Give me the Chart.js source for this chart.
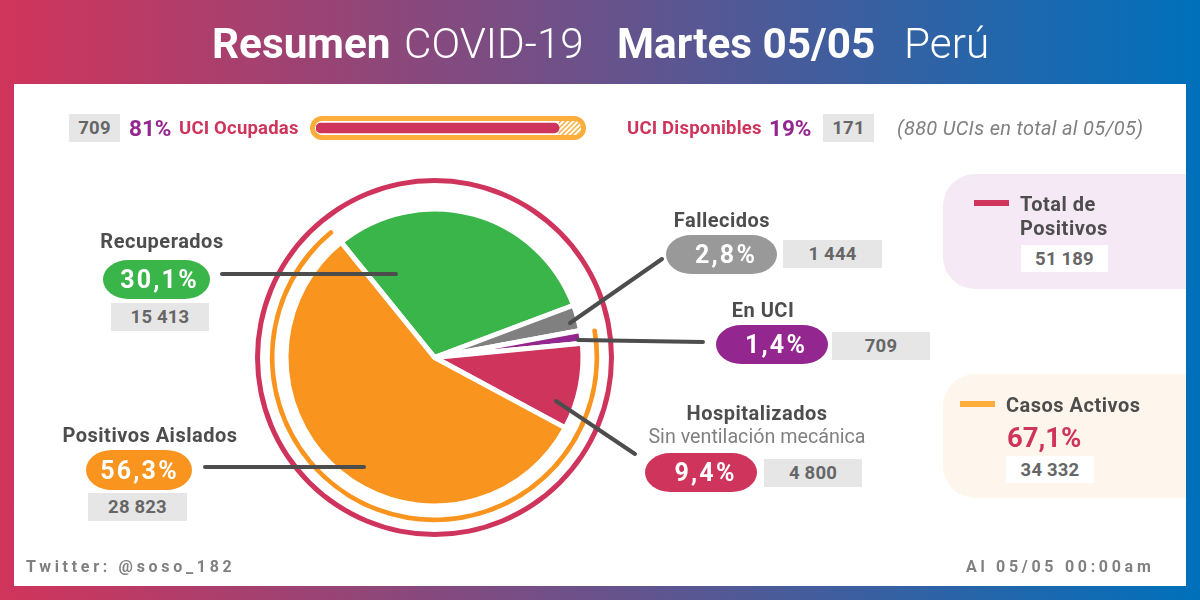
<!DOCTYPE html>
<html lang="es">
<head>
<meta charset="utf-8">
<title>Resumen COVID-19</title>
<script src="https://cdn.jsdelivr.net/npm/chart.js@4"></script>
<style>
  html, body { margin: 0; padding: 0; }
  body { width: 1200px; height: 600px; overflow: hidden; position: relative; font-family: Roboto, sans-serif;
         background: linear-gradient(90deg, #d1345b 0%, #0070bb 100%); }
  #panel { position: absolute; left: 14px; top: 84px; width: 1172px; height: 502px; background: #fff; }
  .t { position: absolute; white-space: nowrap; transform: translateY(-50%); line-height: 1; }
  .c { transform: translate(-50%, -50%); }
  .box { position: absolute; background: #e6e6e6; color: #666; font-weight: 700; font-size: 18.5px; display: flex;
         align-items: center; justify-content: center; letter-spacing: .2px; }
  .pill { position: absolute; color: #fff; font-weight: 700; font-size: 25px; letter-spacing: 2.2px; display: flex;
          align-items: center; justify-content: center; border-radius: 26px / 20px; box-sizing: border-box; }
  .card { position: absolute; left: 943px; width: 243px; border-radius: 32px 0 0 32px; }
  canvas { position: absolute; }
  svg { position: absolute; left: 0; top: 0; }
</style>
</head>
<body>
<div id="panel"></div>
<div class="card" style="top:174px;height:115px;background:#f4e9f4"></div>
<div class="card" style="top:374px;height:124px;background:#fef6ec"></div>
<div id="capsula" style="position:absolute;left:310px;top:116px;width:266px;height:14px;border:5px solid #fbae3c;border-radius:12px"></div>
<canvas id="barra-uci" width="265" height="14" style="left:316px;top:121px;border-radius:0 7px 7px 0"></canvas>
<canvas id="pie-casos" width="361" height="361" style="left:254px;top:177px"></canvas>
<svg width="1200" height="600" id="guias"></svg>
<div id="textos"></div>

<script>
'use strict';

// Datos del resumen, 05/05
const categorias = ['Recuperados', 'Fallecidos', 'En UCI', 'Hospitalizados', 'Positivos Aislados'];
const casos = [15413, 1444, 709, 4800, 28823];
const porcentajes = ['30,1%', '2,8%', '1,4%', '9,4%', '56,3%'];
const colores = ['#3ab54a', '#808080', '#93278f', '#cf355c', '#f9941e'];
const colorPill = ['#3ab54a', '#999999', '#93278f', '#cf355c', '#f9941e'];

const totalPositivos = [51189];
const casosActivos = [34332, 16857]; // activos, resto
const uciOcupadas = [709];
const uciDisponibles = [171];

const fmt = n => String(n).replace(/\B(?=(\d{3})+$)/g, ' ');

/* ---------- textos ---------- */
const textos = document.getElementById('textos');
function texto(str, x, y, estilo, centrado) {
    const d = document.createElement('div');
    d.className = 't' + (centrado ? ' c' : '');
    d.textContent = str;
    d.style.cssText = `left:${x}px;top:${y}px;${estilo}`;
    textos.appendChild(d);
}
function caja(str, x, y, w, h, fondo) {
    const d = document.createElement('div');
    d.className = 'box';
    d.textContent = str;
    d.style.cssText = `left:${x}px;top:${y}px;width:${w}px;height:${h}px;` + (fondo ? `background:${fondo};` : '');
    textos.appendChild(d);
}
function pill(str, x, y, w, h, color, corrimiento) {
    const d = document.createElement('div');
    d.className = 'pill';
    d.textContent = str;
    d.style.cssText = `left:${x}px;top:${y}px;width:${w}px;height:${h}px;background:${color};padding-left:${corrimiento}px`;
    textos.appendChild(d);
}

// Titulo
const blanco = 'color:#fff;font-size:42.3px;';
texto('Resumen', 212, 44, blanco + 'font-weight:700');
texto('COVID-19', 404, 44, blanco + 'font-weight:300');
texto('Martes 05/05', 617, 44, blanco + 'font-weight:700');
texto('Perú', 904, 44, blanco + 'font-weight:300');

// Fila UCI
const rojoUci = 'color:#cf355c;font-weight:700;font-size:18.5px;letter-spacing:.2px';
const moradoUci = 'color:#93278f;font-weight:700;font-size:22.5px';
caja(fmt(uciOcupadas[0]), 69, 114, 51, 28);
texto('81%', 129, 128, moradoUci);
texto('UCI Ocupadas', 179, 128, rojoUci);
texto('UCI Disponibles', 627, 128, rojoUci);
texto('19%', 769, 128, moradoUci);
caja(fmt(uciDisponibles[0]), 823, 114, 51, 28);
texto('(880 UCIs en total al 05/05)', 897, 128, 'color:#808080;font-style:italic;font-size:20px;letter-spacing:.3px');

// Etiquetas de la torta
const tituloEstilo = 'color:#4d4d4d;font-weight:700;font-size:20px;letter-spacing:.5px';
texto(categorias[0], 162, 241, tituloEstilo, true);
pill(porcentajes[0], 103, 260, 107, 39, colorPill[0], 6);
caja(fmt(casos[0]), 111, 303, 98, 28);

texto(categorias[4], 150, 435, tituloEstilo, true);
pill(porcentajes[4], 86, 450, 106, 40, colorPill[4], 1);
caja(fmt(casos[4]), 88, 493, 99, 28);

texto(categorias[1], 722, 220, tituloEstilo, true);
pill(porcentajes[1], 666, 235, 111, 39, colorPill[1], 9);
caja(fmt(casos[1]), 783, 240, 99, 28);

texto(categorias[2], 763, 310, tituloEstilo, true);
pill(porcentajes[2], 716, 325, 112, 39, colorPill[2], 8);
caja(fmt(casos[2]), 832, 332, 98, 28);

texto(categorias[3], 757, 413, tituloEstilo, true);
texto('Sin ventilación mecánica', 757, 437, 'color:#808080;font-size:19.7px', true);
pill(porcentajes[3], 645, 453, 112, 39, colorPill[3], 9);
caja(fmt(casos[3]), 764, 459, 98, 28);

// Tarjetas laterales
texto('Total de', 1020, 204, tituloEstilo);
texto('Positivos', 1020, 228, tituloEstilo);
caja(fmt(totalPositivos[0]), 1021, 245, 87, 27, '#fff');
texto('Casos Activos', 1006, 405, tituloEstilo);
texto('67,1%', 1007, 438, 'color:#cf355c;font-weight:700;font-size:27.5px');
caja(fmt(casosActivos[0]), 1006, 456, 88, 27, '#fff');

// Pie de pagina
const pieEstilo = 'color:#808080;font-weight:700;font-size:16px;letter-spacing:3.7px';
texto('Twitter: @soso_182', 26, 567, pieEstilo);
texto('Al 05/05 00:00am', 966, 567, pieEstilo);

/* ---------- lineas guia y marcas de tarjetas ---------- */
const guias = [
    [222, 274, 396, 274], [205, 467, 364, 467], [570, 323, 662, 259],
    [578, 340, 703, 342], [556, 401, 635, 454]
];
document.getElementById('guias').innerHTML =
    guias.map(g => `<line x1="${g[0]}" y1="${g[1]}" x2="${g[2]}" y2="${g[3]}" stroke="#4d4d4d" stroke-width="4" stroke-linecap="round"/>`).join('') +
    '<rect x="974" y="200" width="35" height="6" fill="#cf355c"/><rect x="960" y="401" width="35" height="6" fill="#fbae3c"/>';

/* ---------- torta con sus dos anillos ---------- */
new Chart(document.getElementById('pie-casos'), {
    type: 'doughnut',
    data: {
        labels: categorias,
        datasets: [
            { data: totalPositivos, backgroundColor: ['#cf355c'], borderWidth: 0, weight: 5 },
            { data: totalPositivos, backgroundColor: ['transparent'], borderWidth: 0, weight: 9.8 },
            { data: casosActivos, backgroundColor: ['#f9941e', 'transparent'], borderWidth: 0, weight: 4.7, rotation: 79.7, borderRadius: 2.3 },
            { data: totalPositivos, backgroundColor: ['transparent'], borderWidth: 0, weight: 11.5 },
            { data: casos, backgroundColor: colores, borderColor: '#fff', borderWidth: 5, weight: 148.5, rotation: -39 }
        ]
    },
    options: {
        responsive: false,
        animation: false,
        radius: 179.5,
        cutout: 0,
        layout: { padding: 0 },
        plugins: { legend: { display: false }, tooltip: { enabled: false } }
    }
});

/* ---------- barra de ocupacion UCI ---------- */
const tile = document.createElement('canvas');
tile.width = tile.height = 5;
const tc = tile.getContext('2d');
tc.fillStyle = '#fff';
tc.fillRect(0, 0, 5, 5);
tc.strokeStyle = '#fbae3c';
tc.lineWidth = 1.5;
tc.beginPath();
tc.moveTo(-1, 6); tc.lineTo(6, -1);
tc.moveTo(-1, 1); tc.lineTo(1, -1);
tc.moveTo(4, 6); tc.lineTo(6, 4);
tc.stroke();

new Chart(document.getElementById('barra-uci'), {
    type: 'bar',
    data: {
        labels: ['UCI'],
        datasets: [
            { data: uciOcupadas, backgroundColor: '#cf355c', barThickness: 10, borderRadius: 5, borderSkipped: false, grouped: false, order: 0 },
            // tramo libre: empieza donde terminan las ocupadas
            { data: [[uciOcupadas[0], uciOcupadas[0] + uciDisponibles[0]]], backgroundColor: tc.createPattern(tile, 'repeat'), barThickness: 14, grouped: false, order: 1 }
        ]
    },
    options: {
        indexAxis: 'y',
        responsive: false,
        animation: false,
        layout: { padding: 0 },
        // la barra original no esta a escala: 709 llega hasta el 92% del ancho
        scales: {
            x: { display: false, min: 0, max: 773 },
            y: { display: false }
        },
        plugins: { legend: { display: false }, tooltip: { enabled: false } }
    }
});
</script>
</body>
</html>
